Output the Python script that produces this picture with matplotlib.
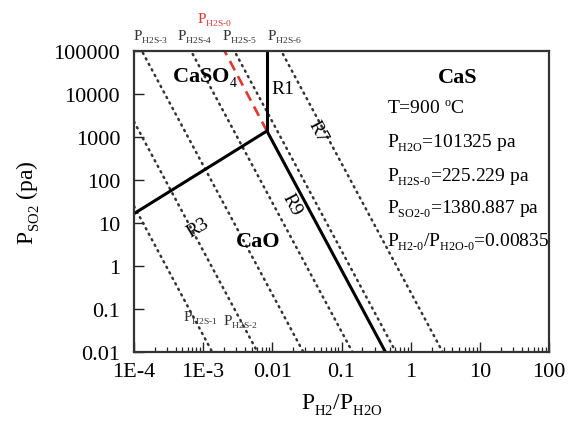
import numpy as np
import matplotlib
matplotlib.use("Agg")
import matplotlib.pyplot as plt
import matplotlib._mathtext as _mt

# lower, smaller subscripts like the reference
try:
    _mt.SHRINK_FACTOR = 0.62
    _mt.FontConstantsBase.sub1 = 0.55
    _mt.FontConstantsBase.subdrop = 0.55
except Exception:
    pass

# ---- data ----
triple_x = 0.00835      # P_H2/P_H2O at the triple point
triple_y = 1380.887     # P_SO2 (pa) at the triple point
r1_x = [0.00835, 0.00835]
r1_y = [1380.887, 1e5]
r3_x = [1e-4, 0.00835]
r3_y = [16.5, 1380.887]
r9_x = [0.00835, 0.432]
r9_y = [1380.887, 0.01]
h2s0_x = [0.00835, 0.00204]
h2s0_y = [1380.887, 1e5]
# iso-P_H2S dotted lines (slope -3 in log-log), x where each meets P_SO2 = 0.01
iso_x_bottom = [0.00135, 0.0061, 0.028, 0.144, 0.61, 2.9]
iso_slope = -3.0
iso_y_ref = 0.01

xticks = [1e-4, 1e-3, 0.01, 0.1, 1, 10, 100]
xticklabels = ["1E-4", "1E-3", "0.01", "0.1", "1", "10", "100"]
yticks = [0.01, 0.1, 1, 10, 100, 1000, 10000, 100000]
yticklabels = ["0.01", "0.1", "1", "10", "100", "1000", "10000", "100000"]

plt.rcParams['font.family'] = ['Liberation Serif', 'DejaVu Serif']
plt.rcParams['mathtext.fontset'] = 'custom'
plt.rcParams['mathtext.rm'] = 'Liberation Serif'
plt.rcParams['mathtext.bf'] = 'Liberation Serif:bold'
plt.rcParams['mathtext.it'] = 'Liberation Serif:italic'

fig = plt.figure(figsize=(5.69, 4.27), dpi=100)
ax = fig.add_axes([0.2355, 0.1733, 0.7294, 0.7049])
ax.set_xscale('log')
ax.set_yscale('log')
ax.set_xlim(1e-4, 100)
ax.set_ylim(0.01, 1e5)

# dotted iso lines
xx = np.array([1e-4, 100.0])
for xb in iso_x_bottom:
    yy = iso_y_ref * (xx / xb) ** iso_slope
    ax.plot(xx, yy, color='#333333', lw=1.8, linestyle=(0, (0.5, 2.0)),
            dash_capstyle='round')

# red dashed P_H2S-0
ax.plot(h2s0_x, h2s0_y, color='#e8352c', lw=1.9, linestyle=(0, (4, 2.5)))

# solid boundaries
for bx, by in [(r1_x, r1_y), (r3_x, r3_y), (r9_x, r9_y)]:
    ax.plot(bx, by, color='black', lw=2.2, solid_capstyle='butt')

ax.set_xticks(xticks)
ax.set_xticklabels(xticklabels)
ax.set_yticks(yticks)
ax.set_yticklabels(yticklabels)
ax.tick_params(axis='both', which='both', direction='in', top=False, right=False,
               labelsize=16, color='#222222')
ax.tick_params(axis='both', which='major', length=7, width=1.0)
ax.tick_params(axis='both', which='minor', length=3.5, width=0.9)
ax.tick_params(axis='x', pad=7)
ax.tick_params(axis='y', pad=10)
for s in ax.spines.values():
    s.set_linewidth(1.6)
    s.set_color('#333333')

ax.set_xlabel(r"P$_{\rm H2}$/P$_{\rm H2O}$", fontsize=17, labelpad=8)
ax.set_ylabel(r"P$_{\rm SO2}$ (pa)", fontsize=17, labelpad=8)

T = ax.transAxes
ax.text(0.171, 0.914, r"$\mathbf{CaSO}_{\rm 4}$", transform=T, fontsize=16,
        ha='center', va='center')
ax.text(0.781, 0.914, "CaS", transform=T, fontsize=16, fontweight='bold',
        ha='center', va='center')
ax.text(0.299, 0.369, "CaO", transform=T, fontsize=16, fontweight='bold',
        ha='center', va='center')
ax.text(0.359, 0.874, "R1", transform=T, fontsize=14, ha='center', va='center')
ax.text(0.154, 0.415, "R3", transform=T, fontsize=14, ha='center', va='center',
        rotation=31)
ax.text(0.443, 0.734, "R7", transform=T, fontsize=14, ha='center', va='center',
        rotation=-62)
ax.text(0.381, 0.492, "R9", transform=T, fontsize=14, ha='center', va='center',
        rotation=-62)

info = [r"T=900 $^{\rm o}$C",
        r"P$_{\rm H2O}$=101325 pa",
        r"P$_{\rm H2S\text{-}0}$=225.229 pa",
        r"P$_{\rm SO2\text{-}0}$=1380.887 pa",
        r"P$_{\rm H2\text{-}0}$/P$_{\rm H2O\text{-}0}$=0.00835"]
info_y = [0.797, 0.684, 0.571, 0.465, 0.355]
for t, y in zip(info, info_y):
    ax.text(0.610, y, t, transform=T, fontsize=14, ha='left', va='baseline')

top_labels = [r"P$_{\rm H2S\text{-}3}$", r"P$_{\rm H2S\text{-}4}$",
              r"P$_{\rm H2S\text{-}5}$", r"P$_{\rm H2S\text{-}6}$"]
top_fx = [-0.002, 0.104, 0.212, 0.320]
for t, fx in zip(top_labels, top_fx):
    ax.text(fx, 1.04, t, transform=T, fontsize=11, color='#333333',
            ha='left', va='baseline', clip_on=False)
ax.text(0.152, 1.096, r"P$_{\rm H2S\text{-}0}$", transform=T, fontsize=11,
        color='#e8352c', ha='left', va='baseline', clip_on=False)
ax.text(0.118, 0.106, r"P$_{\rm H2S\text{-}1}$", transform=T, fontsize=11,
        color='#333333', ha='left', va='baseline')
ax.text(0.214, 0.093, r"P$_{\rm H2S\text{-}2}$", transform=T, fontsize=11,
        color='#333333', ha='left', va='baseline')

fig.savefig("out.png", dpi=100)
